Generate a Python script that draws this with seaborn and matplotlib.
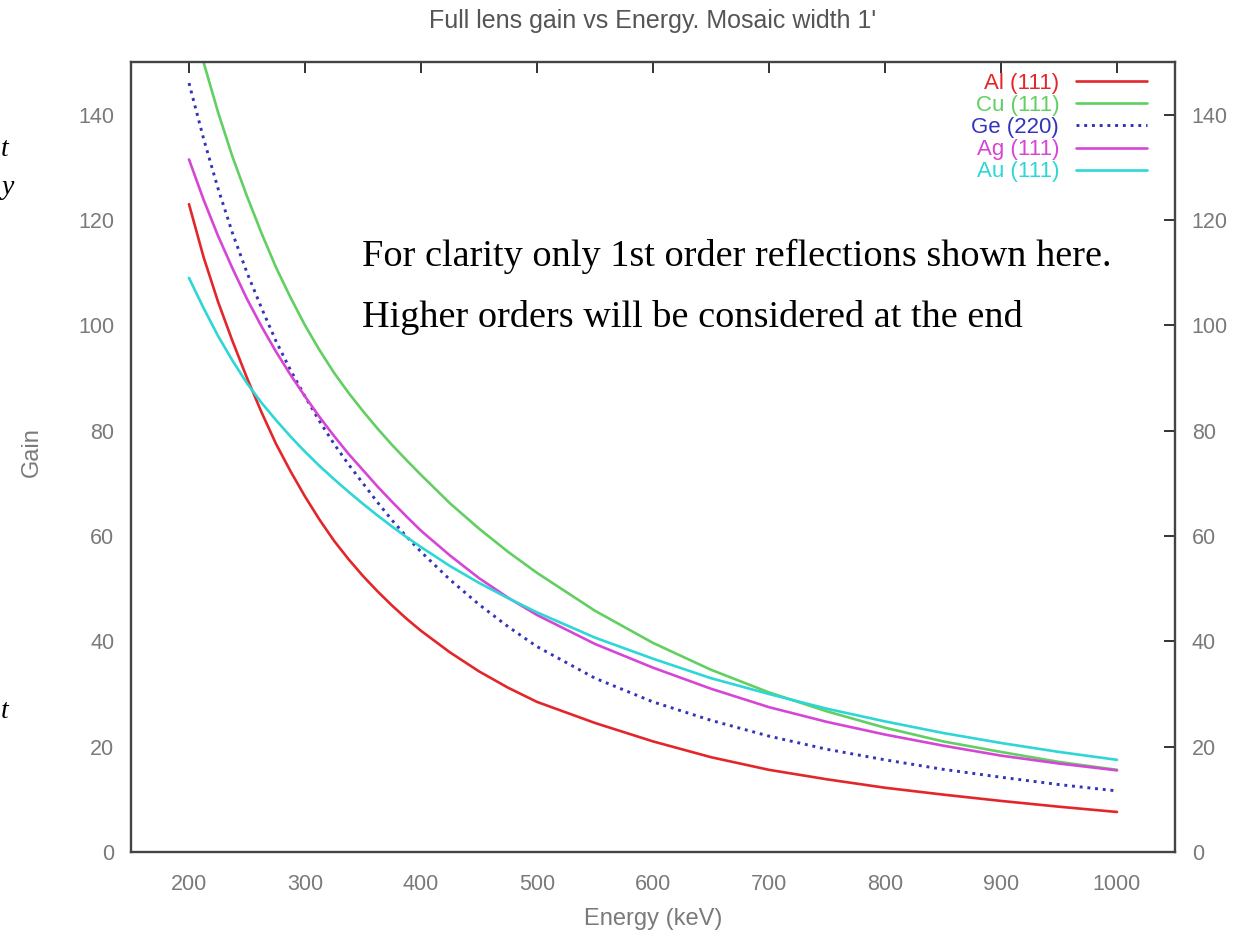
import numpy as np
import pandas as pd
import matplotlib
matplotlib.use("Agg")
import matplotlib.pyplot as plt
import seaborn as sns

energy = [200, 212.5, 225, 237.5, 250, 262.5, 275, 287.5, 300, 312.5, 325, 337.5,
          350, 362.5, 375, 387.5, 400, 425, 450, 475, 500,
          550, 600, 650, 700, 750, 800, 850, 900, 950, 1000]
al_111 = [123, 113, 104.5, 97, 90, 83.5, 77.5, 72.3, 67.5, 63.1, 59.1, 55.6,
          52.4, 49.5, 46.8, 44.3, 42, 37.9, 34.3, 31.2, 28.5,
          24.5, 21, 18, 15.6, 13.8, 12.2, 10.9, 9.7, 8.6, 7.6]
cu_111 = [160, 150, 140.5, 132, 124.5, 117.5, 111, 105.3, 100, 95.3, 91, 87.2,
          83.7, 80.4, 77.3, 74.4, 71.6, 66.2, 61.4, 57, 53,
          45.8, 39.7, 34.6, 30.3, 26.7, 23.6, 21, 19, 17.1, 15.6]
ge_220 = [146, 135.5, 126, 117.5, 110, 103.3, 97, 91.5, 86.5, 81.8, 77.5, 73.6,
          70, 66.4, 63, 59.9, 57, 51.7, 47, 42.8, 39,
          33, 28.5, 25, 22, 19.5, 17.5, 15.7, 14.2, 12.8, 11.6]
ag_111 = [131.5, 123.9, 117, 110.8, 105, 99.8, 95, 90.6, 86.5, 82.6, 79, 75.6,
          72.5, 69.4, 66.5, 63.7, 61, 56.3, 52, 48.3, 45,
          39.5, 35, 31, 27.5, 24.7, 22.3, 20.2, 18.3, 16.8, 15.5]
au_111 = [109, 103.3, 98, 93.3, 89, 85.3, 82, 78.9, 76, 73.3, 70.8, 68.4,
          66.1, 63.9, 61.8, 59.8, 57.9, 54.3, 51.1, 48.2, 45.5,
          40.7, 36.7, 33, 30, 27.2, 24.8, 22.6, 20.7, 19, 17.5]

series_names = ["Al (111)", "Cu (111)", "Ge (220)", "Ag (111)", "Au (111)"]
series_vals = [al_111, cu_111, ge_220, ag_111, au_111]
colors = ["#e3262a", "#62cf62", "#3434b8", "#d646d6", "#2ed6d6"]
styles = ["-", "-", ":", "-", "-"]

x_ticks = [200, 300, 400, 500, 600, 700, 800, 900, 1000]
y_ticks = [0, 20, 40, 60, 80, 100, 120, 140]

sns.set_theme(style="white")
plt.rcParams["font.family"] = ["Liberation Sans", "DejaVu Sans"]

W, H = 1247, 932
fig = plt.figure(figsize=(W / 100, H / 100), dpi=100)
L, R, T, B = 131, 1175, 62, 852
ax = fig.add_axes([L / W, 1 - B / H, (R - L) / W, (B - T) / H])

for name, vals, c, ls in zip(series_names, series_vals, colors, styles):
    df = pd.DataFrame({"Energy": energy, "Gain": vals})
    sns.lineplot(data=df, x="Energy", y="Gain", ax=ax, color=c, linestyle=ls,
                 linewidth=2.1 if ls == ":" else 1.9, label=name)

ax.set_xlim(150, 1050)
ax.set_ylim(0, 150)
ax.set_xticks(x_ticks)
ax.set_yticks(y_ticks)
gray = "#7a7a7a"
ax.tick_params(axis="both", direction="in", length=8, width=1.4, color="#333333",
               labelsize=15.5, labelcolor=gray, top=True, right=True, labelright=True)
ax.tick_params(axis="x", pad=16)
ax.tick_params(axis="y", pad=12)
for s in ax.spines.values():
    s.set_color("#444444")
    s.set_linewidth(1.7)

ax.set_xlabel("Energy (keV)", fontsize=17, color=gray)
ax.xaxis.set_label_coords(0.5, -(919 - B) / (B - T), transform=ax.transAxes)
ax.xaxis.label.set_va("center")
ax.set_ylabel("Gain", fontsize=17, color=gray)
ax.yaxis.set_label_coords(-(L - 32) / (R - L), (B - 452) / (B - T), transform=ax.transAxes)
ax.yaxis.label.set_va("center")

fig.text((L + R) / 2 / W, 1 - 28 / H, "Full lens gain vs Energy. Mosaic width 1'",
         fontsize=18, color="#555555", ha="center", va="baseline")

leg = ax.legend(loc="upper right", frameon=False, markerfirst=False, labelcolor="linecolor",
                handlelength=3.2, fontsize=16, labelspacing=0.05, borderaxespad=0,
                borderpad=0, handletextpad=0.75,
                bbox_to_anchor=((1147 - L) / (R - L), 1 - (73 - T) / (B - T)))

serif = ["Liberation Serif", "DejaVu Serif"]
fig.text(362 / W, 1 - 266 / H, "For clarity only 1st order reflections shown here.",
         family=serif, fontsize=27.5, color="black", ha="left", va="baseline")
fig.text(362 / W, 1 - 327 / H, "Higher orders will be considered at the end",
         family=serif, fontsize=27.5, color="black", ha="left", va="baseline")

for yy, ch in [(150, "t"), (188, "y"), (712, "t")]:
    fig.text(1 / W, 1 - yy / H, ch, family=serif, style="italic", fontsize=20,
             color="black", ha="left", va="center")

fig.savefig("out.png", dpi=100)
